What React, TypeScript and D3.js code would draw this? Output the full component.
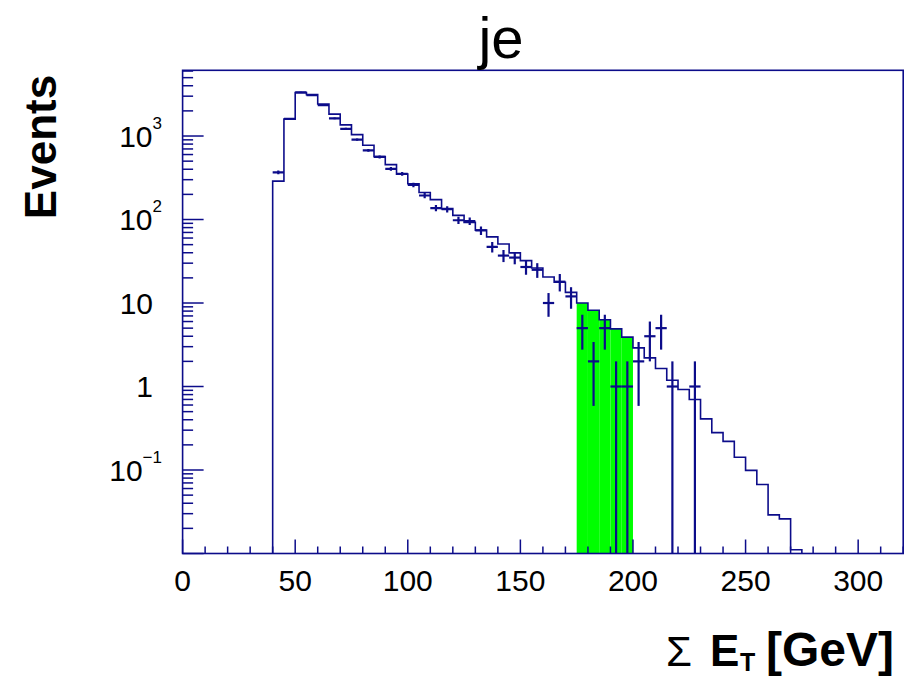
import React from "react";
import * as d3 from "d3";

// Histogram (expectation), 5 GeV bins, lower edges
const binLow = [40, 45, 50, 55, 60, 65, 70, 75, 80, 85, 90, 95, 100, 105, 110, 115, 120, 125, 130, 135, 140, 145, 150, 155, 160, 165, 170, 175, 180, 185, 190, 195, 200, 205, 210, 215, 220, 225, 230, 235, 240, 245, 250, 255, 260, 265, 270];
const mcValues = [288, 1592, 3311, 3133, 2422, 1828, 1361, 1040, 774, 567, 454, 350, 268, 211, 173, 135, 112, 92.5, 74.7, 62, 51, 39.8, 32.2, 26.3, 20.5, 17.7, 13.4, 10.0, 8.2, 6.3, 4.9, 3.9, 2.9, 2.2, 1.64, 1.19, 0.92, 0.70, 0.41, 0.28, 0.22, 0.142, 0.099, 0.067, 0.029, 0.026, 0.0111];
const binWidth = 5;
const signalLow = 175;
const signalHigh = 200;

// Observed data counts
const dataBinLow = [40, 45, 50, 55, 60, 65, 70, 75, 80, 85, 90, 95, 100, 105, 110, 115, 120, 125, 130, 135, 140, 145, 150, 155, 160, 165, 170, 175, 180, 185, 190, 195, 200, 205, 210, 215, 220, 225];
const dataCounts = [367, 1603, 3334, 3090, 2344, 1630, 1219, 906, 674, 562, 404, 352, 260, 194, 137, 133, 98, 96, 74, 47, 37, 35, 27, 25, 10, 18, 12, 5, 2, 5, 1, 1, 2, 4, 5, 1, 0, 1];

const xMajorTicks = [0, 50, 100, 150, 200, 250, 300];
const yLabelValues = [1000, 100, 10, 1, 0.1];
const yLabelBase = ["10", "10", "10", "1", "10"];
const yLabelExp = ["3", "2", "", "", "\u22121"];

const W = 911;
const H = 677;
const LEFT = 182.6;
const RIGHT = 903.2;
const TOP = 70.3;
const BOTTOM = 553.5;
const YMIN = 0.01;
const YMAX = 6124;
const COL = "#0c0c8a";
const FONT = "'Liberation Sans', Arial, Helvetica, sans-serif";

export default function App() {
  const x = d3.scaleLinear().domain([0, 320]).range([LEFT, RIGHT]);
  const y = d3.scaleLog().domain([YMIN, YMAX]).range([BOTTOM, TOP]);
  const yc = (v: number) => (v <= YMIN ? BOTTOM : Math.max(TOP, y(v)));

  // histogram outline
  const pts: [number, number][] = [];
  pts.push([x(binLow[0]), BOTTOM]);
  binLow.forEach((lo, i) => {
    pts.push([x(lo), yc(mcValues[i])]);
    pts.push([x(lo + binWidth), yc(mcValues[i])]);
  });
  pts.push([x(binLow[binLow.length - 1] + binWidth), BOTTOM]);
  const line = d3.line<[number, number]>();
  const histPath = line(pts) || "";

  // green signal fill
  const green: { x0: number; x1: number; y: number }[] = [];
  binLow.forEach((lo, i) => {
    if (lo >= signalLow && lo < signalHigh) {
      green.push({ x0: x(lo), x1: x(lo + binWidth), y: yc(mcValues[i]) });
    }
  });

  // x ticks
  const xMinor: number[] = [];
  for (let v = 0; v <= 320; v += 10) if (v % 50 !== 0) xMinor.push(v);

  // y ticks
  const yMajor: number[] = [];
  const yMinor: number[] = [];
  for (let e = -2; e <= 3; e++) {
    const base = Math.pow(10, e);
    if (base >= YMIN && base <= YMAX) yMajor.push(base);
    for (let m = 2; m <= 9; m++) {
      const v = m * base;
      if (v > YMIN && v <= YMAX) yMinor.push(v);
    }
  }

  return (
    <svg
      width={W}
      height={H}
      style={{ position: "absolute", left: 0, top: 0, background: "#fff" }}
    >
      <defs>
        <clipPath id="frameClip">
          <rect x={LEFT} y={TOP} width={RIGHT - LEFT} height={BOTTOM - TOP} />
        </clipPath>
      </defs>
      <rect x={0} y={0} width={W} height={H} fill="#fff" />

      <g clipPath="url(#frameClip)">
        {green.map((g, i) => (
          <rect key={i} x={g.x0} y={g.y} width={g.x1 - g.x0} height={BOTTOM - g.y} fill="#00ff00" />
        ))}
        <path d={histPath} fill="none" stroke={COL} strokeWidth={1.6} />
        {dataBinLow.map((lo, i) => {
          const n = dataCounts[i];
          if (n <= 0) return null;
          const err = Math.sqrt(n);
          const cx = x(lo + binWidth / 2);
          const yv = y(n);
          const yUp = yc(n + err);
          const yDn = n - err > YMIN ? yc(n - err) : BOTTOM;
          return (
            <g key={i} stroke={COL} strokeWidth={2.2}>
              <line x1={x(lo)} x2={x(lo + binWidth)} y1={yv} y2={yv} />
              <line x1={cx} x2={cx} y1={yUp} y2={yDn} />
            </g>
          );
        })}
      </g>

      {/* frame */}
      <rect x={LEFT} y={TOP} width={RIGHT - LEFT} height={BOTTOM - TOP} fill="none" stroke={COL} strokeWidth={1.6} />

      {/* x ticks */}
      {xMajorTicks.map((v) => (
        <line key={"xM" + v} x1={x(v)} x2={x(v)} y1={BOTTOM} y2={BOTTOM - 14} stroke={COL} strokeWidth={1.5} />
      ))}
      {xMinor.map((v) => (
        <line key={"xm" + v} x1={x(v)} x2={x(v)} y1={BOTTOM} y2={BOTTOM - 7} stroke={COL} strokeWidth={1.5} />
      ))}
      {xMajorTicks.map((v) => (
        <text key={"xl" + v} x={x(v)} y={591} textAnchor="middle" fontFamily={FONT} fontSize={30} fill="#000">
          {v}
        </text>
      ))}

      {/* y ticks */}
      {yMajor.map((v) => (
        <line key={"yM" + v} x1={LEFT} x2={LEFT + 21} y1={y(v)} y2={y(v)} stroke={COL} strokeWidth={1.5} />
      ))}
      {yMinor.map((v) => (
        <line key={"ym" + v} x1={LEFT} x2={LEFT + 10.5} y1={y(v)} y2={y(v)} stroke={COL} strokeWidth={1.5} />
      ))}
      {yLabelValues.map((v, i) => {
        const ty = y(v);
        const exp = yLabelExp[i];
        if (!exp) {
          return (
            <text key={"yl" + i} x={153} y={ty + 10.5} textAnchor="end" fontFamily={FONT} fontSize={30} fill="#000">
              {yLabelBase[i]}
            </text>
          );
        }
        return (
          <text key={"yl" + i} x={162} y={ty + 10.5} textAnchor="end" fontFamily={FONT} fontSize={30} fill="#000">
            {yLabelBase[i]}
            <tspan fontSize={17} dy={-18}>
              {exp}
            </tspan>
          </text>
        );
      })}

      {/* title */}
      <text x={501} y={58} textAnchor="middle" fontFamily={FONT} fontSize={58} fill="#000">
        je
      </text>

      {/* y title */}
      <text
        transform="translate(56,147) rotate(-90)"
        textAnchor="middle"
        fontFamily={FONT}
        fontSize={44}
        fontWeight="bold"
        fill="#000"
      >
        Events
      </text>

      {/* x title */}
      <g fontFamily={FONT} fill="#000">
        <text x={666} y={666} fontSize={42}>
          {"\u03A3"}
        </text>
        <text x={710} y={666} fontSize={44} fontWeight="bold">
          E
        </text>
        <text x={740} y={671} fontSize={25} fontWeight="bold">
          T
        </text>
        <text x={766} y={666} fontSize={48} fontWeight="bold">
          [GeV]
        </text>
      </g>
    </svg>
  );
}
